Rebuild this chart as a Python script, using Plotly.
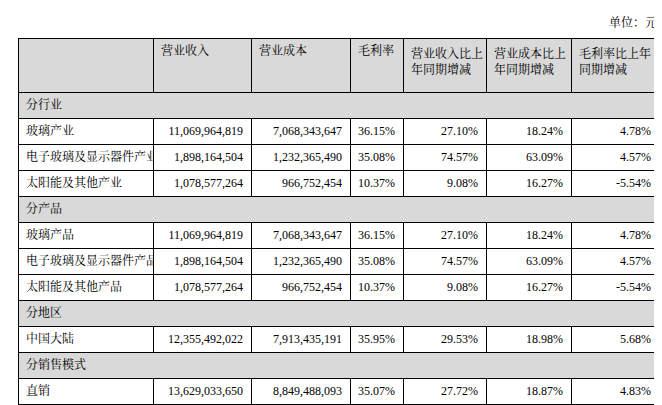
import plotly.graph_objects as go

headers = ["", "营业收入", "营业成本", "毛利率", "营业收入比上<br>年同期增减", "营业成本比上<br>年同期增减", "毛利率比上年<br>同期增减"]
sections = ["分行业", "分产品", "分地区", "分销售模式"]
names = [["玻璃产业", "电子玻璃及显示器件产业", "太阳能及其他产业"],
         ["玻璃产品", "电子玻璃及显示器件产品", "太阳能及其他产品"],
         ["中国大陆"],
         ["直销"]]
revenue = [["11,069,964,819", "1,898,164,504", "1,078,577,264"],
           ["11,069,964,819", "1,898,164,504", "1,078,577,264"],
           ["12,355,492,022"], ["13,629,033,650"]]
cost = [["7,068,343,647", "1,232,365,490", "966,752,454"],
        ["7,068,343,647", "1,232,365,490", "966,752,454"],
        ["7,913,435,191"], ["8,849,488,093"]]
margin = [["36.15%", "35.08%", "10.37%"], ["36.15%", "35.08%", "10.37%"], ["35.95%"], ["35.07%"]]
rev_chg = [["27.10%", "74.57%", "9.08%"], ["27.10%", "74.57%", "9.08%"], ["29.53%"], ["27.72%"]]
cost_chg = [["18.24%", "63.09%", "16.27%"], ["18.24%", "63.09%", "16.27%"], ["18.98%"], ["18.87%"]]
margin_chg = [["4.78%", "4.57%", "-5.54%"], ["4.78%", "4.57%", "-5.54%"], ["5.68%"], ["4.83%"]]

W, H = 662, 405
x0, x1 = 10 / W, 651 / W
colw = [135, 98, 99, 53, 83, 85, 88]
FONT = "Liberation Serif, Noto Serif CJK SC, Noto Sans CJK SC, serif"
GREY = "#d9d9d9"
HEAD_H, ROW_H = 54, 26
LINE = dict(color="black", width=1)
F = dict(family=FONT, size=12, color="black")

def ydom(top, h):
    return [1 - (top + h + 2) / H, 1 - top / H]

fig = go.Figure()
top = 30
fig.add_trace(go.Table(
    domain=dict(x=[x0, x1], y=ydom(top, HEAD_H)),
    columnwidth=colw,
    header=dict(values=headers, fill_color=GREY, height=HEAD_H, line=LINE, align="left", font=F),
    cells=dict(values=[[] for _ in headers], height=ROW_H, line=LINE)))
top += HEAD_H
for i, sec in enumerate(sections):
    fig.add_trace(go.Table(
        domain=dict(x=[x0, x1], y=ydom(top, ROW_H)),
        header=dict(values=[sec], fill_color=GREY, height=ROW_H, line=LINE, align="left", font=F),
        cells=dict(values=[[]], height=ROW_H, line=LINE)))
    top += ROW_H
    n = len(names[i])
    cols = [names[i], revenue[i], cost[i], margin[i], rev_chg[i], cost_chg[i], margin_chg[i]]
    al = ["left"] + ["right"] * 6
    fig.add_trace(go.Table(
        domain=dict(x=[x0, x1], y=ydom(top, ROW_H * n)),
        columnwidth=colw,
        header=dict(values=[c[0] for c in cols], fill_color="white", height=ROW_H,
                    line=LINE, align=al, font=F),
        cells=dict(values=[c[1:] for c in cols], fill_color="white", height=ROW_H,
                   line=LINE, align=al, font=F)))
    top += ROW_H * n

fig.add_annotation(text="单位：元", x=651 / W, y=1 - 15 / H, xref="paper", yref="paper",
                   xanchor="right", yanchor="middle", showarrow=False, font=F)
fig.update_layout(width=W, height=H, margin=dict(l=0, r=0, t=0, b=0),
                  paper_bgcolor="white", plot_bgcolor="white")
fig.write_html("out.html")
